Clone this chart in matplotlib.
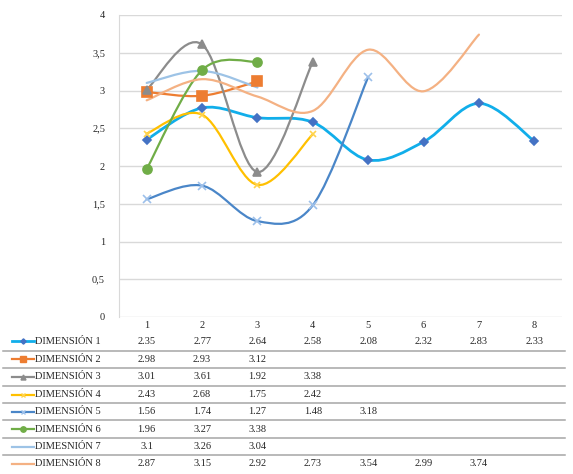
import numpy as np
import matplotlib
matplotlib.use("Agg")
import matplotlib.pyplot as plt
from matplotlib.path import Path
from matplotlib.patches import PathPatch
from matplotlib.lines import Line2D
from matplotlib import transforms

plt.rcParams["font.family"] = ["Liberation Serif", "DejaVu Serif"]

categories = [1, 2, 3, 4, 5, 6, 7, 8]
series_names = ["DIMENSIÓN 1", "DIMENSIÓN 2", "DIMENSIÓN 3", "DIMENSIÓN 4",
                "DIMENSIÓN 5", "DIMENSIÓN 6", "DIMESNIÓN 7", "DIMENSIÓN 8"]
dim1 = [2.35, 2.77, 2.64, 2.58, 2.08, 2.32, 2.83, 2.33]
dim2 = [2.98, 2.93, 3.12]
dim3 = [3.01, 3.61, 1.92, 3.38]
dim4 = [2.43, 2.68, 1.75, 2.42]
dim5 = [1.56, 1.74, 1.27, 1.48, 3.18]
dim6 = [1.96, 3.27, 3.38]
dim7 = [3.1, 3.26, 3.04]
dim8 = [2.87, 3.15, 2.92, 2.73, 3.54, 2.99, 3.74]
series = [dim1, dim2, dim3, dim4, dim5, dim6, dim7, dim8]

yticks = [0, 0.5, 1, 1.5, 2, 2.5, 3, 3.5, 4]
ytick_labels = ["0", "0,5", "1", "1,5", "2", "2,5", "3", "3,5", "4"]

# style per series: line colour, marker, marker colour, marker size, line width
styles = [
    ("#11AEEA", "D", "#4472C4", 4.5, 2.0),
    ("#ED7D31", "s", "#ED7D31", 6.5, 1.6),
    ("#8C8C8C", "^", "#8C8C8C", 6, 1.6),
    ("#FFC000", "x", "#FFD34D", 5, 1.6),
    ("#4A86C8", "x", "#9DC0EA", 6, 1.6),
    ("#70AD47", "o", "#70AD47", 6.5, 1.6),
    ("#9DC3E6", None, None, 0, 1.6),
    ("#F4B183", None, None, 0, 1.6),
]


def smooth_path(xs, ys):
    # Excel-like smoothed line: cubic bezier segments, catmull-rom controls
    pts = np.column_stack([xs, ys]).astype(float)
    n = len(pts)
    verts = [pts[0]]
    codes = [Path.MOVETO]
    for i in range(n - 1):
        p0 = pts[i - 1] if i > 0 else pts[i]
        p1 = pts[i]
        p2 = pts[i + 1]
        p3 = pts[i + 2] if i + 2 < n else pts[i + 1]
        c1 = p1 + (p2 - p0) / 6.0
        c2 = p2 - (p3 - p1) / 6.0
        verts += [c1, c2, p2]
        codes += [Path.CURVE4] * 3
    return Path(verts, codes)


W, H = 573, 474
fig = plt.figure(figsize=(W / 100, H / 100), dpi=100)
ax = fig.add_axes([119 / W, 1 - 317 / H, (562 - 119) / W, (317 - 15) / H])

ax.set_xlim(0.5, 8.5)
ax.set_ylim(0, 4)
ax.set_yticks(yticks)
ax.set_yticklabels(ytick_labels, fontsize=7.5, color="#262626")
ax.set_xticks([])
ax.tick_params(axis="y", length=0, pad=10)
ax.grid(axis="y", color="#D9D9D9", linewidth=1.0)
ax.set_axisbelow(True)
for side in ["top", "right", "bottom"]:
    ax.spines[side].set_visible(False)
ax.spines["left"].set_color("#D9D9D9")

for vals, (lc, mk, mc, ms, lw) in zip(series, styles):
    xs = categories[:len(vals)]
    patch = PathPatch(smooth_path(xs, vals), fill=False, edgecolor=lc,
                      linewidth=lw, capstyle="round", joinstyle="round")
    ax.add_patch(patch)
    if mk:
        ax.plot(xs, vals, linestyle="none", marker=mk, markersize=ms,
                color=mc, markeredgecolor=mc, markeredgewidth=1.2)

# data table below the chart
trans = transforms.blended_transform_factory(ax.transData, fig.transFigure)


def fy(py):
    return 1 - py / H


for c in categories:
    ax.text(c, fy(325), str(c), transform=trans, ha="center", va="center",
            fontsize=7.5, color="#262626", clip_on=False)

row_y = [341, 359, 376.5, 394.5, 411.5, 429, 446.5, 464]
sep_y = [350.5, 367.5, 385.5, 403, 420, 438, 455]

for py in sep_y:
    fig.add_artist(Line2D([3 / W, 565 / W], [fy(py), fy(py)],
                          color="#A6A6A6", linewidth=1.1, transform=fig.transFigure))

for name, vals, (lc, mk, mc, ms, lw), py in zip(series_names, series, styles, row_y):
    fig.add_artist(Line2D([12 / W, 34 / W], [fy(py), fy(py)], color=lc,
                          linewidth=lw, transform=fig.transFigure))
    if mk:
        fig.add_artist(Line2D([23 / W], [fy(py)], marker=mk, markersize=ms * 0.6,
                              color=mc, markeredgecolor=mc, markeredgewidth=1.0,
                              linestyle="none", transform=fig.transFigure))
    fig.text(35 / W, fy(py), name, ha="left", va="center", fontsize=7.5,
             color="#262626")
    for c, v in zip(categories, vals):
        ax.text(c, fy(py), f"{v:g}", transform=trans, ha="center", va="center",
                fontsize=7.5, color="#262626", clip_on=False)

fig.savefig("out.png", dpi=100)
